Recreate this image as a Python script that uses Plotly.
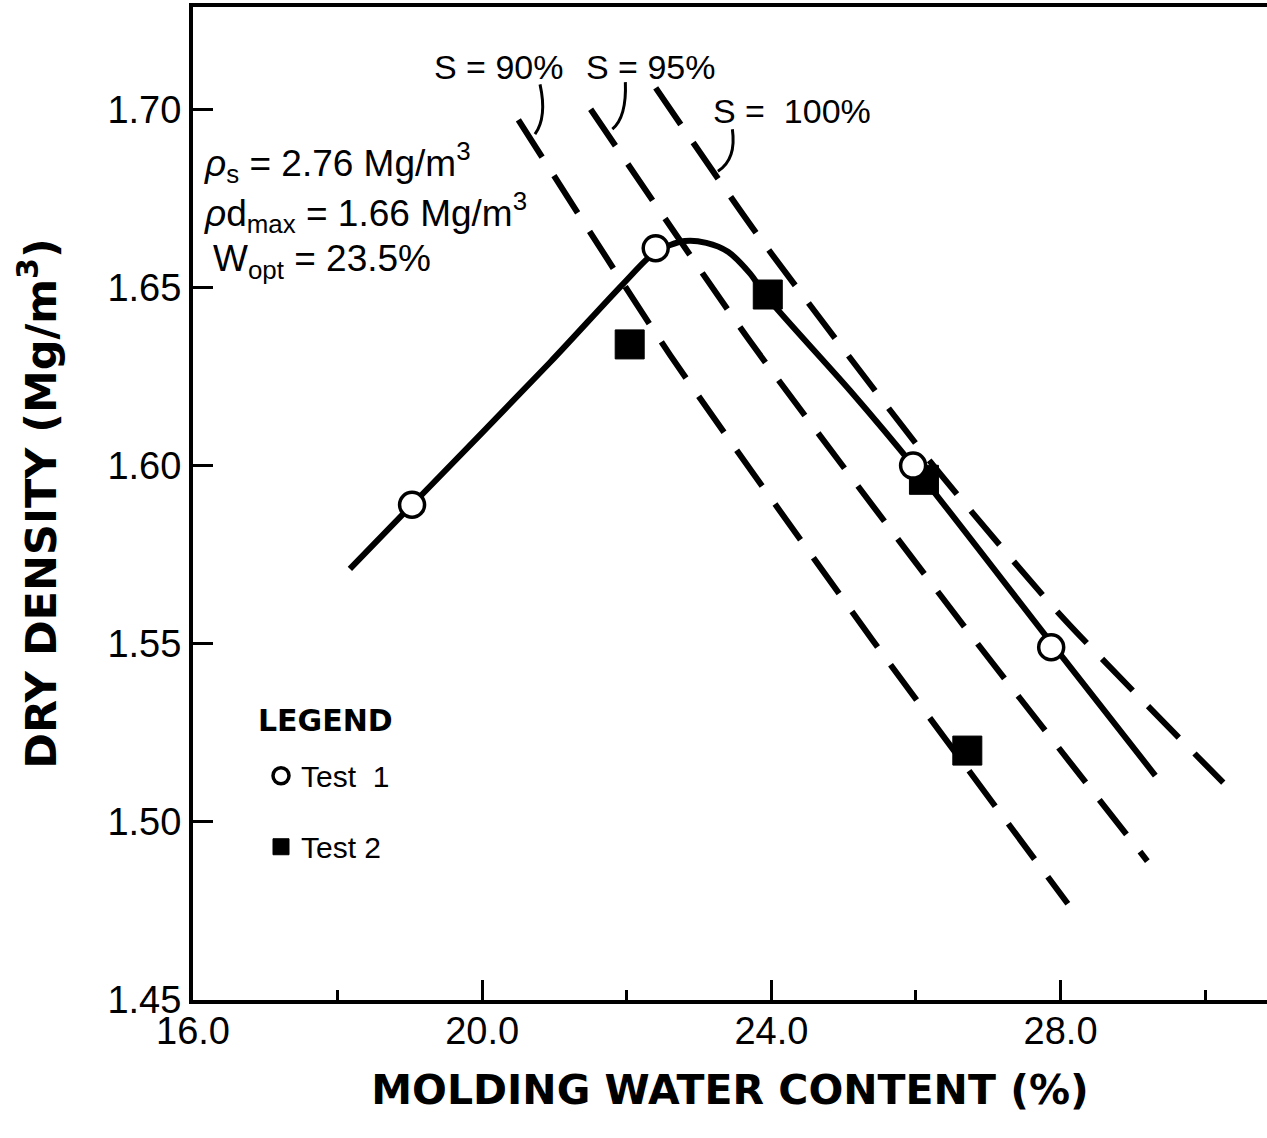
import plotly.graph_objects as go

# ---- data ----
test1_w = [19.03, 22.40, 25.96, 27.87]
test1_rho = [1.589, 1.661, 1.600, 1.549]

test2_w = [22.04, 23.95, 26.11, 26.71]
test2_rho = [1.634, 1.648, 1.596, 1.520]

curve_w = [18.17, 19.03, 20.94, 21.95, 22.40, 22.80, 23.10, 23.40, 23.70, 23.95, 25.09, 25.96, 27.88, 29.31]
curve_rho = [1.571, 1.589, 1.629, 1.651, 1.660, 1.663, 1.6625, 1.660, 1.654, 1.647, 1.621, 1.600, 1.550, 1.513]

s90_w = [20.5, 22.6, 25.4, 28.1]
s90_rho = [1.697, 1.631, 1.551, 1.477]
s95_w = [21.5, 23.7, 26.7, 29.2]
s95_rho = [1.700, 1.635, 1.554, 1.489]
s100_w = [22.4, 23.8, 26.2, 28.0, 30.25]
s100_rho = [1.706, 1.665, 1.601, 1.558, 1.511]

x_ticks = [16, 20, 24, 28]
x_ticklabels = ["16.0", "20.0", "24.0", "28.0"]
x_minor = [18, 22, 26, 30]
y_ticks = [1.45, 1.50, 1.55, 1.60, 1.65, 1.70]
y_ticklabels = ["1.45", "1.50", "1.55", "1.60", "1.65", "1.70"]

NARROW = "Liberation Sans Narrow, Arial Narrow, Liberation Sans, Arial, sans-serif"
REG = "Liberation Sans, Arial, sans-serif"
BOLD = "DejaVu Sans, Arial Black, sans-serif"

fig = go.Figure()

dash = "44px,22px"
for w, r in [(s90_w, s90_rho), (s95_w, s95_rho), (s100_w, s100_rho)]:
    fig.add_trace(go.Scatter(x=w, y=r, mode="lines", showlegend=False, hoverinfo="skip",
                             line=dict(color="black", width=6, dash=dash, shape="spline", smoothing=0.6)))

fig.add_trace(go.Scatter(x=curve_w, y=curve_rho, mode="lines", showlegend=False, hoverinfo="skip",
                         line=dict(color="black", width=6, shape="spline", smoothing=0.8)))

fig.add_trace(go.Scatter(x=test2_w, y=test2_rho, mode="markers", name="Test 2", legendgroup="b", legendrank=2,
                         marker=dict(symbol="square", size=29, color="black", line=dict(color="black", width=1))))
fig.add_trace(go.Scatter(x=test1_w, y=test1_rho, mode="markers", name="Test  1", legendgroup="a", legendrank=1,
                         marker=dict(symbol="circle", size=25, color="white", line=dict(color="black", width=3.5))))

# leader curves from saturation labels to lines
leaders = [
    "M 20.80 1.7070 Q 20.90 1.6978 20.73 1.6930",
    "M 21.98 1.7076 Q 22.00 1.6978 21.80 1.6944",
    "M 23.46 1.6944 Q 23.52 1.6860 23.26 1.6826",
]
for p in leaders:
    fig.add_shape(type="path", path=p, xref="x", yref="y", line=dict(color="black", width=3))

ann_font = dict(family=REG, size=34, color="black")
fig.add_annotation(x=20.22, y=1.7118, text="S = 90%", showarrow=False, font=ann_font)
fig.add_annotation(x=22.33, y=1.7118, text="S = 95%", showarrow=False, font=ann_font)
fig.add_annotation(x=24.28, y=1.6994, text="S =  100%", showarrow=False, font=ann_font)

txt_font = dict(family=REG, size=37, color="black")
fig.add_annotation(x=16.13, y=1.6851, xanchor="left",
                   text="<i>ρ</i><sub>s</sub> = 2.76 Mg/m<sup>3</sup>",
                   showarrow=False, font=txt_font)
fig.add_annotation(x=16.13, y=1.6711, xanchor="left",
                   text="<i>ρ</i>d<sub>max</sub> = 1.66 Mg/m<sup>3</sup>",
                   showarrow=False, font=txt_font)
fig.add_annotation(x=16.25, y=1.6573, xanchor="left", text="W<sub>opt</sub> = 23.5%",
                   showarrow=False, font=txt_font)

# legend heading
fig.add_annotation(xref="paper", yref="paper", x=(256 - 193) / 1074, y=(1000 - 721) / 992,
                   xanchor="left", yanchor="middle", text="<b>LEGEND</b>", showarrow=False,
                   font=dict(family=BOLD, size=30, color="black"))

fig.update_xaxes(range=[16, 30.855], tickvals=x_ticks, ticktext=x_ticklabels,
                 ticks="inside", ticklen=20, tickwidth=3, tickcolor="black",
                 minor=dict(tickvals=x_minor, ticks="inside", ticklen=10, tickwidth=3, tickcolor="black"),
                 showline=True, linewidth=4, linecolor="black", mirror=True,
                 showgrid=False, zeroline=False,
                 tickfont=dict(family=NARROW, size=38, color="black"), ticklabelstandoff=-6,
                 title=dict(text="<b>MOLDING WATER CONTENT (%)</b>", font=dict(family=BOLD, size=41, color="black"),
                            standoff=26))
fig.update_yaxes(range=[1.45, 1.7287], tickvals=y_ticks, ticktext=y_ticklabels,
                 ticks="inside", ticklen=20, tickwidth=3, tickcolor="black",
                 showline=True, linewidth=4, linecolor="black", mirror=False,
                 showgrid=False, zeroline=False,
                 tickfont=dict(family=NARROW, size=38, color="black"), ticklabelstandoff=0,
                 title=dict(text="<b>DRY DENSITY (Mg/m<sup>3</sup>)</b>", font=dict(family=BOLD, size=43, color="black"),
                            standoff=38))

fig.update_layout(
    width=1267, height=1138,
    margin=dict(l=193, r=0, t=7, b=138, autoexpand=False),
    plot_bgcolor="white", paper_bgcolor="white",
    legend=dict(x=(261 - 193) / 1074, y=(1000 - 750) / 992, xanchor="left", yanchor="top",
                font=dict(family=REG, size=30, color="black"),
                traceorder="grouped", tracegroupgap=29, bgcolor="rgba(0,0,0,0)"),
)

fig.write_html("out.html")
